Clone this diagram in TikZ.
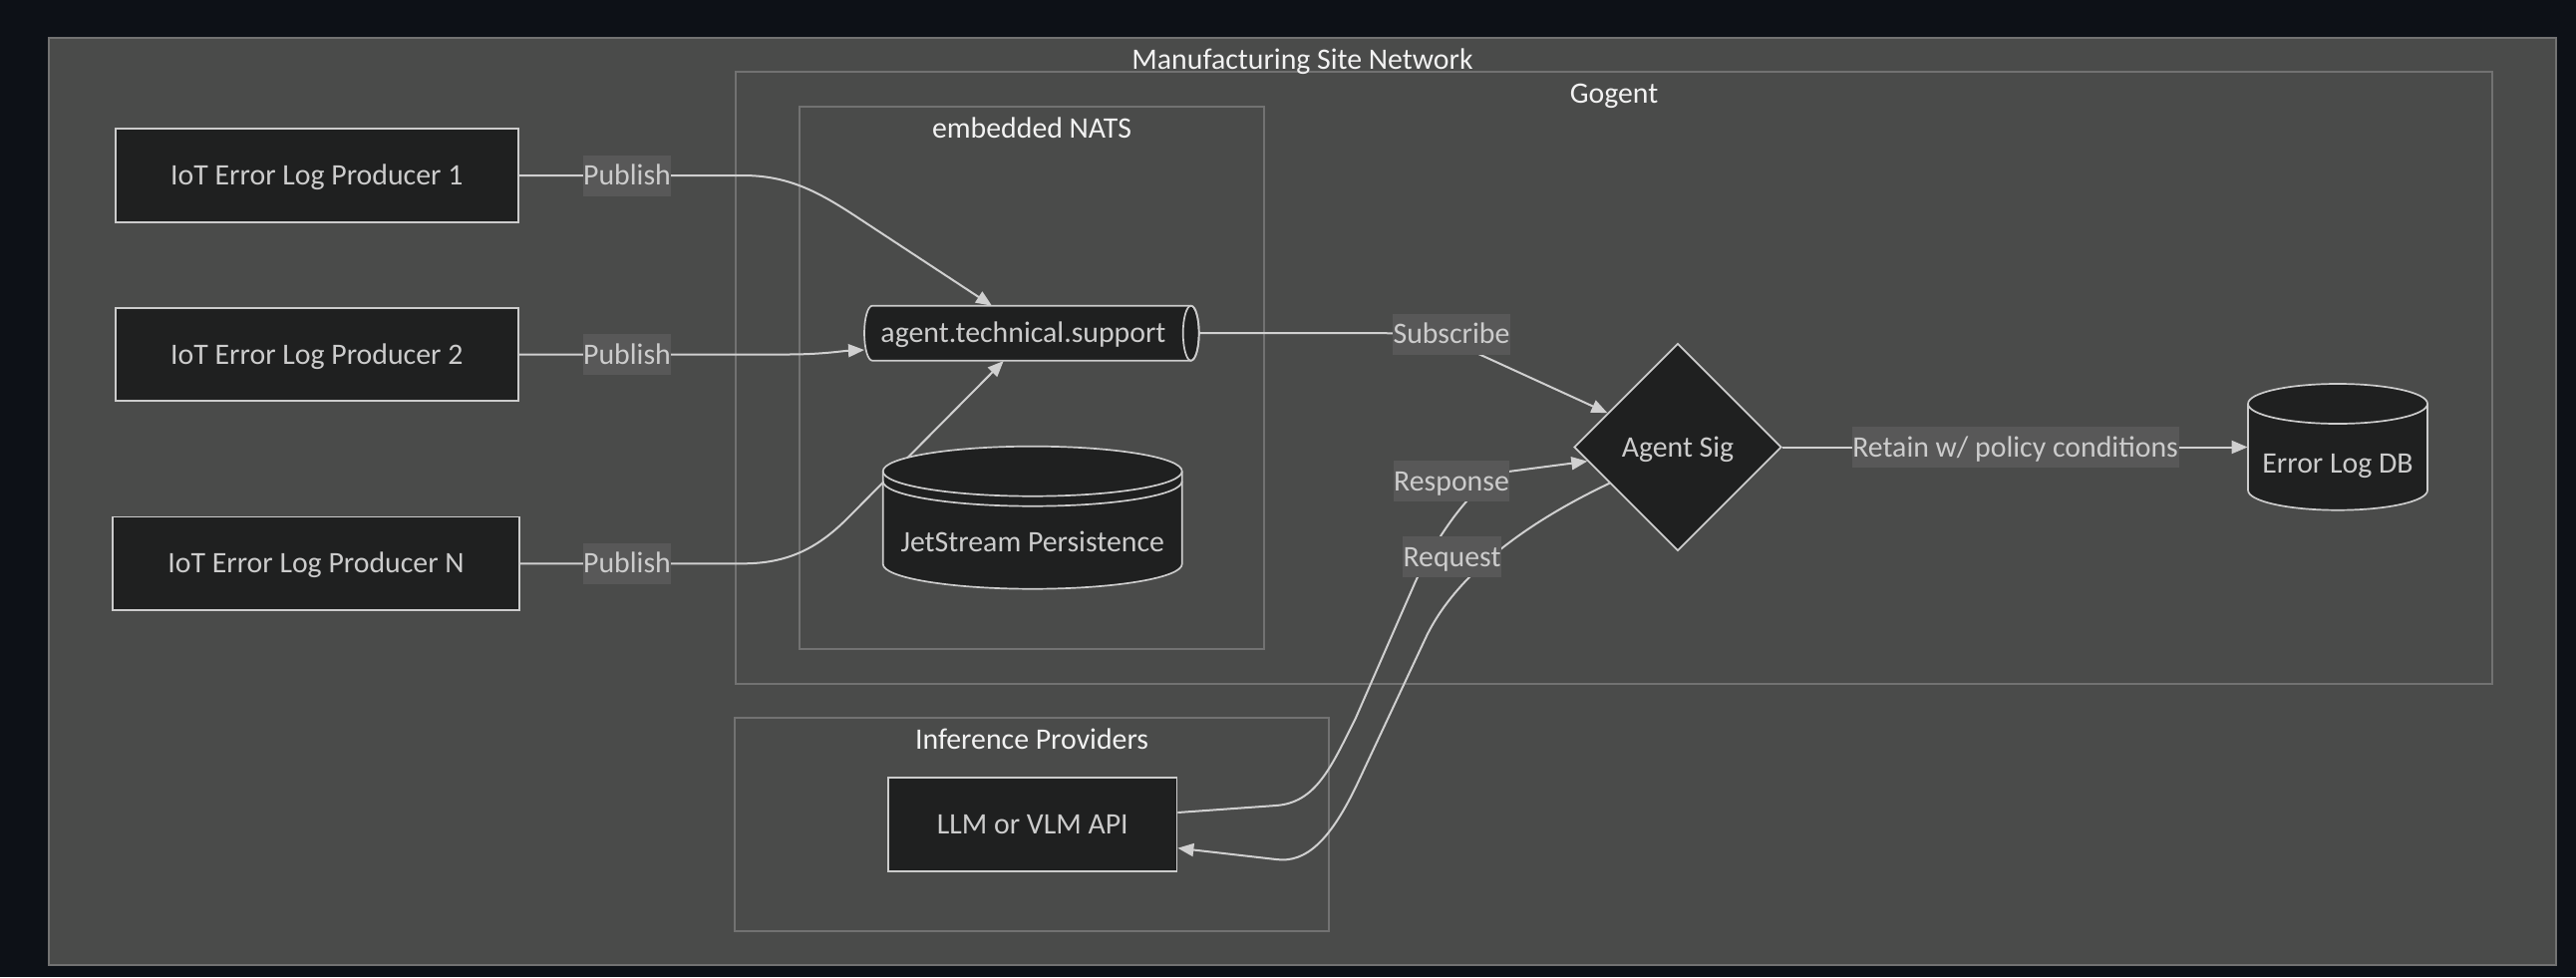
\documentclass[tikz,border=0pt]{standalone}
\usepackage{fontspec}
\setmainfont{Carlito}
\usetikzlibrary{shapes.geometric,arrows.meta,calc}
\definecolor{bgc}{HTML}{0D1117}
\definecolor{clfill}{HTML}{4A4B4A}
\definecolor{clline}{HTML}{727272}
\definecolor{nodefill}{HTML}{1F2020}
\definecolor{nodeline}{HTML}{CCCCCC}
\definecolor{lblfill}{HTML}{585858}
\definecolor{edgec}{HTML}{D0D0D0}
\definecolor{txtc}{HTML}{CCCCCC}
\definecolor{ttlc}{HTML}{F2F2F2}
\pgfdeclarelayer{back}
\pgfdeclarelayer{edges}
\pgfsetlayers{back,edges,main}
\begin{document}
\begin{tikzpicture}[x=0.5pt,y=-0.5pt,
  font=\fontsize{14.9pt}{17pt}\selectfont,
  cluster/.style={draw=clline, fill=clfill, line width=0.6pt},
  ttl/.style={text=ttlc, inner sep=0pt, text height=9.6pt, text depth=0pt},
  box/.style={draw=nodeline, fill=nodefill, line width=0.85pt, text=txtc, inner sep=0pt, text height=9.6pt, text depth=0pt},
  shapeline/.style={draw=nodeline, fill=nodefill, line width=0.85pt},
  shapeedge/.style={draw=nodeline, line width=0.85pt},
  inner/.style={text=txtc, inner sep=0pt, text height=9.6pt, text depth=0pt},
  lbl/.style={fill=lblfill, text=txtc, inner xsep=0.3pt, inner ysep=0pt, minimum height=20.5pt, text height=9.6pt, text depth=0pt},
  edge/.style={draw=edgec, line width=1pt, -{Triangle[length=8pt,width=6.5pt]}}]
\useasboundingbox (0,0) rectangle (2584,980);
\begin{pgfonlayer}{back}
\fill[bgc] (0,0) rectangle (2584,980);
\path[cluster] (49,38) rectangle (2564,968);
\path[cluster] (738,72) rectangle (2500,686);
\path[cluster] (802,107) rectangle (1268,651);
\path[cluster] (737,720) rectangle (1333,934);
\end{pgfonlayer}

% cluster titles
\node[ttl] (tMSN) at (1306.5,59.7) {Manufacturing Site Network};
\node[ttl] (tGog) at (1619,93.7) {Gogent};
\node[ttl] (tNATS) at (1035,128.7) {embedded NATS};
\node[ttl] (tInf) at (1035,741.7) {Inference Providers};

% rectangular and diamond nodes
\node[box, minimum width=202pt, minimum height=47pt] (p1) at (317.8,176) {IoT Error Log Producer 1};
\node[box, minimum width=202pt, minimum height=46.5pt] (p2) at (317.8,355.5) {IoT Error Log Producer 2};
\node[box, minimum width=204pt, minimum height=46.7pt] (pn) at (317,565.3) {IoT Error Log Producer N};
\node[box, minimum width=144.75pt, minimum height=47pt] (llm) at (1035.75,827) {LLM or VLM API};
\node[box, diamond, aspect=1, minimum width=104pt, minimum height=104pt] (sig) at (1683,448.5) {Agent Sig};

% horizontal cylinder (queue)
\path[shapeline] (875,306.7) -- (1194.7,306.7)
  arc[start angle=90, end angle=-90, x radius=4pt, y radius=13.75pt]
  -- (875,361.7)
  arc[start angle=270, end angle=90, x radius=4pt, y radius=13.75pt] -- cycle;
\path[shapeedge] (1194.7,334.2) ellipse[x radius=4pt, y radius=13.75pt];
\node[inner] (ats) at (1026.5,334.2) {agent.technical.support};

% JetStream lined cylinder
\path[shapeline] (885.7,472.7) -- (885.7,565.7)
  arc[start angle=180, end angle=360, x radius=75pt, y radius=12.5pt]
  -- (1185.7,472.7)
  arc[start angle=0, end angle=180, x radius=75pt, y radius=12.5pt] -- cycle;
\path[shapeedge] (885.7,472.7) arc[start angle=180, end angle=360, x radius=75pt, y radius=12.5pt];
\path[shapeedge] (885.7,482.7) arc[start angle=180, end angle=360, x radius=75pt, y radius=12.5pt];
\node[inner] (js) at (1035.7,543.7) {JetStream Persistence};

% Error Log DB cylinder
\path[shapeline] (2255,405) -- (2255,491.7)
  arc[start angle=180, end angle=360, x radius=45pt, y radius=10pt]
  -- (2435,405)
  arc[start angle=0, end angle=180, x radius=45pt, y radius=10pt] -- cycle;
\path[shapeedge] (2255,405) arc[start angle=180, end angle=360, x radius=45pt, y radius=10pt];
\node[inner, minimum width=90pt] (db) at (2345,465) {Error Log DB};

% connectors
\begin{pgfonlayer}{edges}
\draw[edge] (p1.east) -- (745,176) .. controls (790,176) and (820,191.6) .. (860,218) -- ($(ats)+(-31.5,-27.5)$);
\draw[edge] (p2.east) -- (790,355.5) .. controls (825,355.5) and (845,352) .. ($(ats)+(-159.5,16.8)$);
\draw[edge] (pn.east) -- (745,565.3) .. controls (790,565.3) and (820,550) .. (850,520) -- ($(ats)+(-19.8,27.8)$);
\draw[edge] ($(ats)+(176.2,0)$) -- (1380,334.2) .. controls (1420,334.2) and (1440,335.2) .. (1470,349) -- ($(sig.west)!0.327!(sig.north)$);
\draw[edge] ($(llm.east)+(0,-12)$) -- (1280,808) .. controls (1320,805) and (1335,770) .. (1360,720) -- (1420,583) .. controls (1445,530) and (1485,477) .. (1513,473) -- ($(sig.west)!0.135!(sig.south)$);
\draw[edge] ($(sig.west)!0.346!(sig.south)$) .. controls (1540,520) and (1462,572) .. (1430,640) -- (1363,783) .. controls (1335,843) and (1310,866) .. (1280,862) -- ($(llm.east)+(0,23.7)$);
\draw[edge] (sig.east) -- (sig.east -| db.west);
\end{pgfonlayer}

% edge labels
\node[lbl] (l1) at (629,176) {Publish};
\node[lbl] (l2) at (629,355.5) {Publish};
\node[lbl] (l3) at (629,565.3) {Publish};
\node[lbl] (lsub) at (1456,335) {Subscribe};
\node[lbl] (lresp) at (1456,482.5) {Response};
\node[lbl] (lreq) at (1456.5,558.5) {Request};
\node[lbl] (lret) at (2021.6,448.5) {Retain w/ policy conditions};
\end{tikzpicture}
\end{document}
